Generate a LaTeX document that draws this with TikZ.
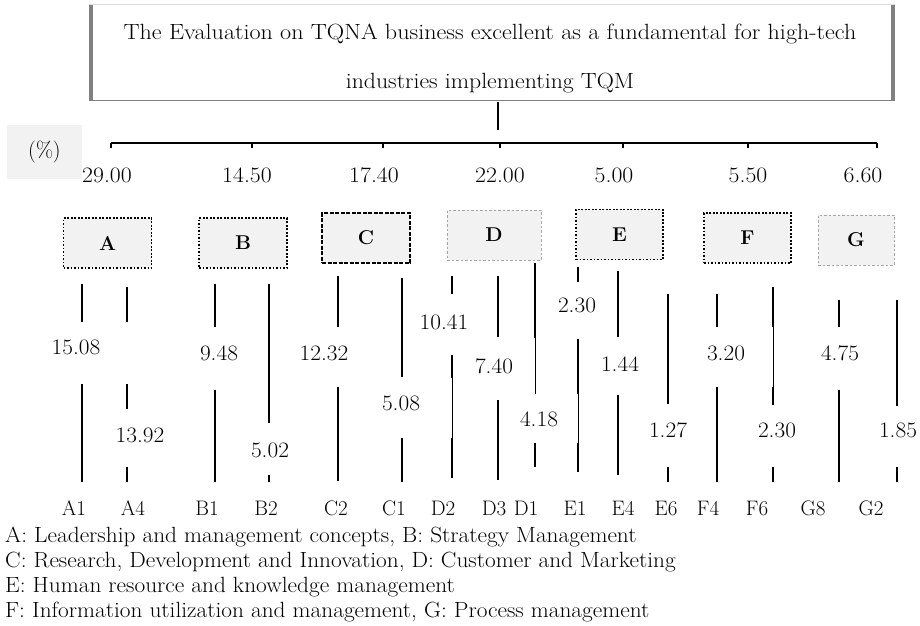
\documentclass[tikz,border=0pt]{standalone}
\usepackage{graphicx}
\definecolor{boxgray}{HTML}{F2F2F2}
\definecolor{framegray}{HTML}{808080}
\definecolor{lightframe}{HTML}{DDDDDD}
\newcommand{\wtxt}[2]{\scalebox{#1}[1]{#2}}
\begin{document}
\begin{tikzpicture}[x=1pt,y=-1pt,
  txt/.style={font=\fontsize{21}{25}\selectfont, inner sep=0pt},
  bigtxt/.style={font=\fontsize{22}{26}\selectfont, inner sep=0pt},
  val/.style={bigtxt, anchor=center},
  vline/.style={line width=2.4pt},
  thinline/.style={line width=0.9pt},
  barline/.style={line width=2.6pt},
  grp/.style={fill=boxgray, minimum width=88pt, minimum height=50pt, inner sep=0pt,
    font=\fontsize{20}{24}\selectfont\bfseries},
  dotframe/.style={draw=black, line width=1.7pt, dash pattern=on 1.7pt off 1.8pt},
  dashframe/.style={draw=black, line width=1.7pt, dash pattern=on 4pt off 1.5pt},
  greyframe/.style={draw=gray!70, line width=0.8pt, dash pattern=on 2.5pt off 2pt}
]
\useasboundingbox (0,0) rectangle (920,625);

% title box
\node (title) [fill=white, minimum width=806pt, minimum height=95pt, inner sep=0pt] at (492,52.5) {};
\draw[lightframe, line width=1pt] (title.north west) -- (title.north east);
\draw[framegray, line width=1.2pt] (title.south west) -- (title.south east);
\draw[framegray, line width=4pt] ([xshift=2pt]title.north west) -- ([xshift=2pt]title.south west);
\draw[framegray, line width=4pt] ([xshift=-2pt]title.north east) -- ([xshift=-2pt]title.south east);
\node (tl1) [bigtxt, anchor=base] at (490,39) {\wtxt{1.095}{The Evaluation on TQNA business excellent as a fundamental for high-tech}};
\node (tl2) [bigtxt, anchor=base] at (490,88) {\wtxt{1.08}{industries implementing TQM}};

% stem and bar
\coordinate (stemtop) at (498,102);
\coordinate (stembot) at (498,130);
\draw[barline] (stemtop) -- (stembot);
\coordinate (barL) at (111,143);
\coordinate (barR) at (877,143);
\draw[barline] (barL) -- (barR);
\foreach \tx [count=\i] in {111,252,383,500,623,748,877}{
  \coordinate (tk\i) at (\tx,143);
  \coordinate (tkb\i) at (\tx,148);
  \draw[line width=1.6pt] (tk\i) -- (tkb\i);
}

% percent box
\node (pct) [fill=boxgray, minimum width=75pt, minimum height=54pt, inner sep=0pt] at (44.5,152) {};
\node (pcttxt) [val] at (44.5,152) {(\%)};

% group weights
\foreach \v/\vx [count=\i] in {29.00/107,14.50/247,17.40/374,22.00/500,5.00/614,5.50/748,6.60/863}{
  \node (w\i) [bigtxt, anchor=base] at (\vx,182) {\wtxt{1.08}{\v}};
}

% group boxes
\node (gA) [grp, dotframe] at (107.5,243) {A};
\node (gB) [grp, dotframe] at (243,243) {B};
\node (gC) [grp, dashframe] at (366,238) {C};
\node (gD) [grp, greyframe, minimum width=94pt] at (494,235) {D};
\node (gE) [grp, dotframe, minimum width=87pt] at (619.5,234.5) {E};
\node (gF) [grp, dotframe, minimum width=87pt] at (747.5,238) {F};
\node (gG) [grp, greyframe, minimum width=76pt] at (856,240) {G};

% thick vertical segments
\foreach \sx/\ya/\yb [count=\i] in {
  82/284/322, 82/384/482,
  127/287/322, 127/384/409, 127/467/482,
  215/284/327, 215/390/482,
  269/284/423, 269/475/482,
  338/276/327, 338/387/481,
  402/278/377, 402/438/482,
  452/276/294, 452/355/378, 452/438/478,
  498/276/337, 498/400/480,
  535/263/338, 535/443/467,
  578/267/282, 578/339/394, 578/443/472,
  618/271/337, 618/395/475,
  668/294/404, 668/467/482,
  717/294/327, 717/387/482,
  773/287/327, 773/387/405, 773/467/482,
  839/300/327, 839/390/482,
  897/300/406, 897/467/482}{
  \coordinate (sa\i) at (\sx,\ya);
  \coordinate (sb\i) at (\sx,\yb);
  \draw[vline] (sa\i) -- (sb\i);
}
% thin vertical segments
\foreach \sx/\ya/\yb [count=\i] in {452/378/438, 535/338/394, 578/394/443, 773/327/387}{
  \coordinate (ta\i) at (\sx,\ya);
  \coordinate (tb\i) at (\sx,\yb);
  \draw[thinline] (ta\i) -- (tb\i);
}

% item values
\foreach \v/\vx/\vy [count=\i] in {
  15.08/76/347, 13.92/140/435, 9.48/219/353, 5.02/270/450,
  12.32/324/353, 5.08/401/403, 10.41/444/322, 7.40/494/366,
  4.18/539/419, 2.30/577/305, 1.44/620/364, 1.27/668/430,
  3.20/726/353, 2.30/777/430, 4.75/840/353, 1.85/898/430}{
  \node (iv\i) [val] at (\vx,\vy) {\wtxt{1.06}{\v}};
}

% item names
\foreach \t/\bx in {A1/74,A4/133,B1/207,B2/266,C2/336,C1/394,D2/443,D3/494,D1/526,
  E1/575,E4/623,E6/666,F4/708,F6/757,G8/813,G2/871}{
  \node (n\t) [txt, anchor=base] at (\bx,515) {\t};
}

% legend
\node (lg1) [bigtxt, anchor=base west] at (5,542) {\wtxt{1.06}{A: Leadership and management concepts, B: Strategy Management}};
\node (lg2) [bigtxt, anchor=base west] at (5,567) {\wtxt{1.06}{C: Research, Development and Innovation, D: Customer and Marketing}};
\node (lg3) [bigtxt, anchor=base west] at (5,592) {\wtxt{1.06}{E: Human resource and knowledge management}};
\node (lg4) [bigtxt, anchor=base west] at (5,617) {\wtxt{1.06}{F: Information utilization and management, G: Process management}};
\end{tikzpicture}
\end{document}
